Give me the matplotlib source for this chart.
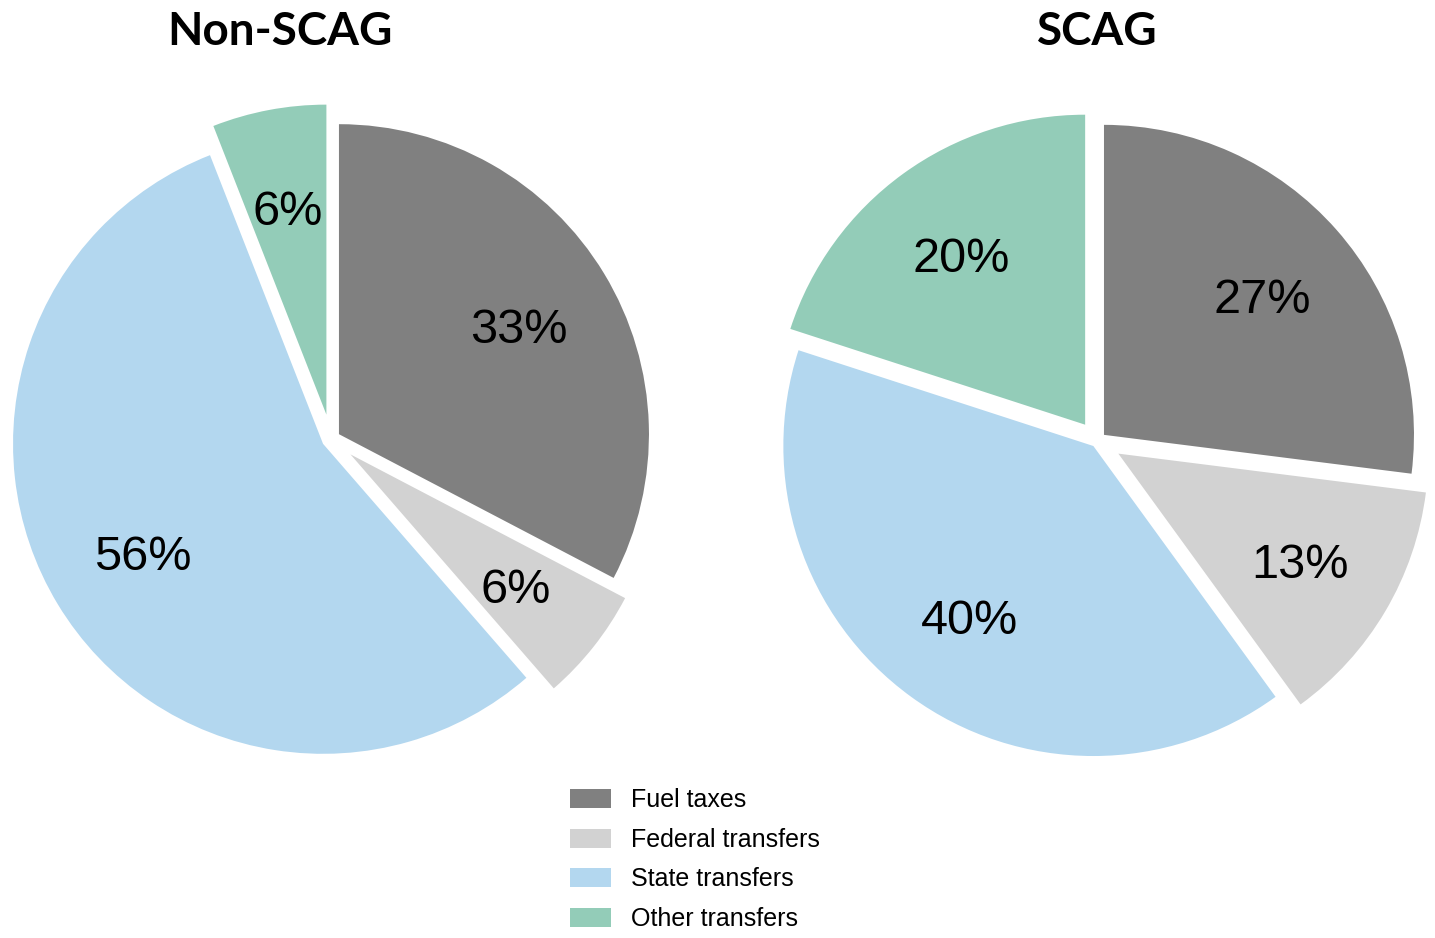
import matplotlib
matplotlib.use("Agg")
import matplotlib.pyplot as plt
from matplotlib.patches import Patch

# Datos
categorias = ["Fuel taxes", "Federal transfers", "State transfers", "Other transfers"]
colores = ["#808080", "#d2d2d2", "#b3d7ef", "#93ccb8"]

non_scag = [33, 6, 56, 6]
scag = [27, 13, 40, 20]

explode_non = [0.03, 0.08, 0.03, 0.08]
explode_scag = [0.03, 0.08, 0.02, 0.065]

W, H = 1435, 938
fig = plt.figure(figsize=(W / 100, H / 100), dpi=100)

R_PX = 310   # radio en pixeles
LIM = 1.2


def eje_pie(cx, cy):
    # cx, cy en pixeles desde arriba-izquierda
    lado = 2 * LIM * R_PX
    left = (cx - lado / 2) / W
    bottom = ((H - cy) - lado / 2) / H
    ax = fig.add_axes([left, bottom, lado / W, lado / H])
    ax.set_aspect("equal")
    ax.axis("off")
    return ax


def dibujar(ax, valores, explode):
    etiquetas = iter([f"{v}%" for v in valores])
    _, textos, autotextos = ax.pie(
        valores, colors=colores, explode=explode, startangle=90,
        counterclock=False, autopct=lambda p: next(etiquetas),
        pctdistance=0.68, wedgeprops=dict(linewidth=0),
        textprops=dict(fontsize=35, family="Liberation Sans", color="black"),
    )
    for t in autotextos:
        t.set_va("center_baseline")
    ax.set_xlim(-LIM, LIM)
    ax.set_ylim(-LIM, LIM)


ax1 = eje_pie(331, 439)
dibujar(ax1, non_scag, explode_non)

ax2 = eje_pie(1097, 441)
dibujar(ax2, scag, explode_scag)

fig.text(280 / W, 1 - 32 / H, "Non-SCAG", ha="center", va="center",
         fontsize=33, fontweight="bold", family="Lato")
fig.text(1097 / W, 1 - 32 / H, "SCAG", ha="center", va="center",
         fontsize=33, fontweight="bold", family="Lato")

handles = [Patch(facecolor=c, edgecolor="none") for c in colores]
fig.legend(handles, categorias, loc="upper left",
           bbox_to_anchor=(570 / W, 1 - 788 / H), frameon=False,
           prop=dict(family="Liberation Sans", size=18),
           handlelength=1.64, handleheight=0.8, handletextpad=0.8,
           labelspacing=0.63, borderpad=0, borderaxespad=0)

fig.savefig("out.png", dpi=100)
